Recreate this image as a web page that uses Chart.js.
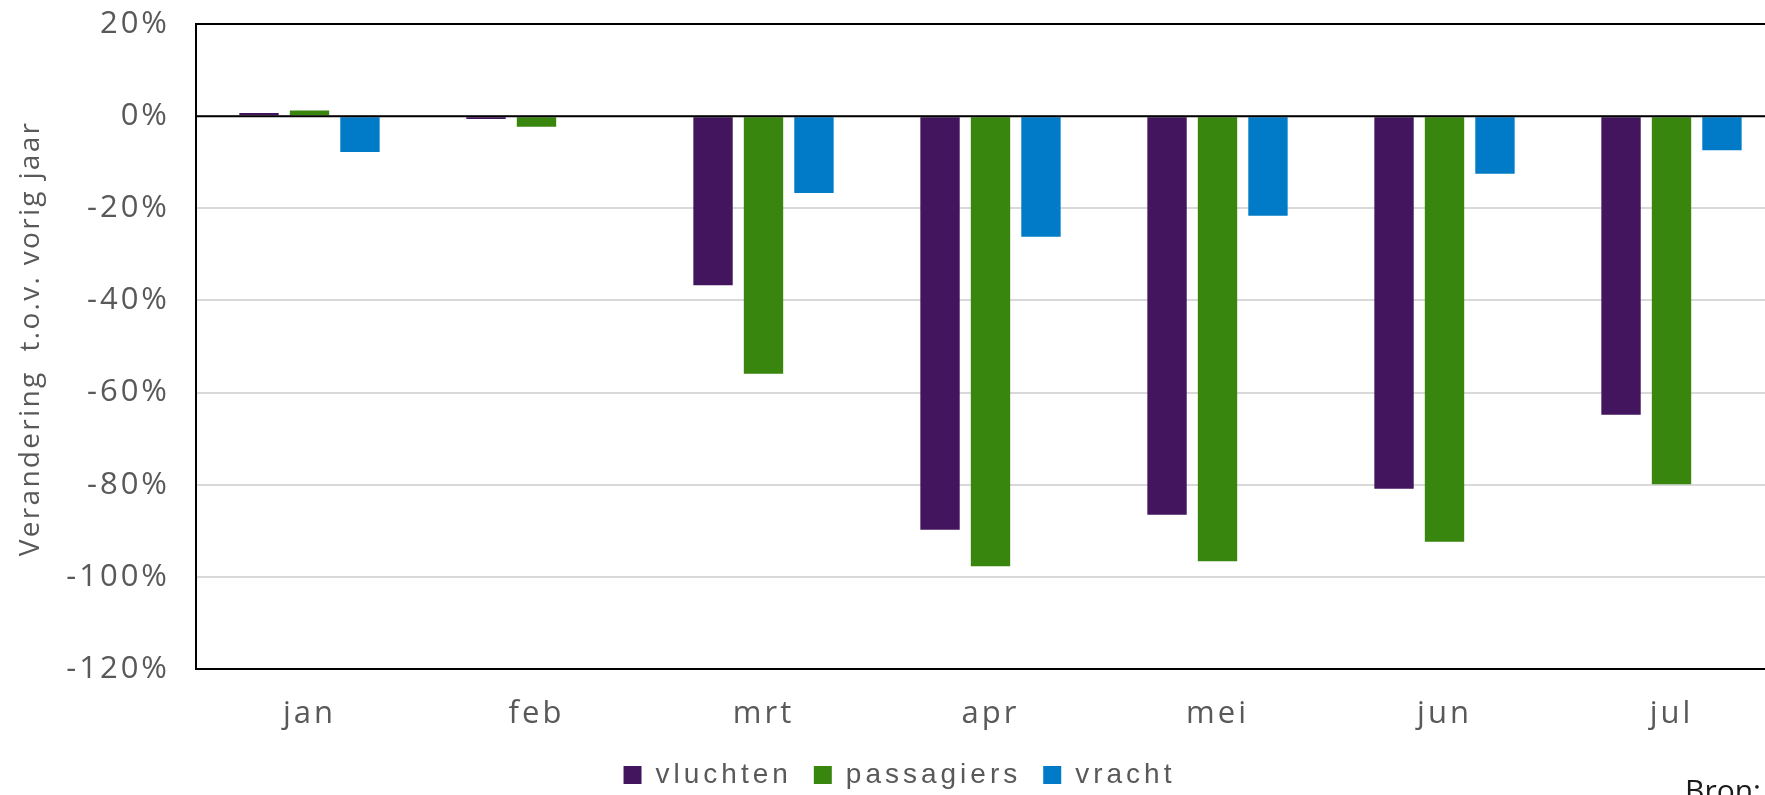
<!DOCTYPE html>
<html lang="nl">
<head>
<meta charset="utf-8">
<title>Verandering t.o.v. vorig jaar</title>
<script src="https://cdn.jsdelivr.net/npm/chart.js@4.4.1/dist/chart.umd.min.js"></script>
<style>
  html, body { margin: 0; padding: 0; background: #fff; overflow: hidden; }
  #grafiek { position: absolute; left: 0; top: 0; }
  #bron { position: absolute; left: 1685px; top: 775px; font: 30px 'Open Sans', sans-serif; line-height: 30px; color: #1a1a1a; white-space: nowrap; }
</style>
</head>
<body>
<canvas id="grafiek" width="1804" height="830"></canvas>
<div id="bron">Bron: CBS</div>
<script>
// maanden en procentuele verandering t.o.v. vorig jaar
const maanden = ['jan', 'feb', 'mrt', 'apr', 'mei', 'jun', 'jul'];
const vluchten = [0.7, -0.6, -36.7, -89.8, -86.5, -80.9, -64.8];
const passagiers = [1.2, -2.3, -55.9, -97.7, -96.6, -92.4, -79.9];
const vracht = [-7.8, 0.2, -16.7, -26.2, -21.6, -12.5, -7.4];

const kleuren = {
  vluchten: '#42155e',
  passagiers: '#38860e',
  vracht: '#017bc7',
};

const tekstGrijs = '#595959';

// tekst met extra letterafstand, zoals in het origineel
function metSpatie(obj, naam, px, ctx, dy) {
  if (obj[naam]._spatie) return;
  const orig = obj[naam].bind(obj);
  const nieuw = function () {
    const oud = ctx.letterSpacing;
    ctx.save();
    if (dy) ctx.translate(0, dy);
    ctx.letterSpacing = px;
    orig.apply(null, arguments);
    ctx.restore();
    ctx.letterSpacing = oud;
  };
  nieuw._spatie = true;
  obj[naam] = nieuw;
}

const spatiePlugin = {
  id: 'spatie',
  beforeLayout(chart) {
    chart.ctx.letterSpacing = '4px'; // legenda meet en tekent hiermee
  },
  beforeDraw(chart) {
    const ctx = chart.ctx;
    ctx.letterSpacing = '4px';
    metSpatie(chart.scales.x, 'drawLabels', '3px', ctx);
    metSpatie(chart.scales.y, 'drawLabels', '3px', ctx);
    metSpatie(chart.scales.y, 'drawTitle', '2.3px', ctx, -8);
  },
  afterDatasetsDraw(chart) {
    // nullijn over de staven heen
    const { ctx, chartArea } = chart;
    const y0 = chart.scales.y.getPixelForValue(0);
    ctx.save();
    ctx.strokeStyle = '#000';
    ctx.lineWidth = 2;
    ctx.beginPath();
    ctx.moveTo(chartArea.left, y0);
    ctx.lineTo(chartArea.right, y0);
    ctx.stroke();
    ctx.restore();
  },
};

new Chart(document.getElementById('grafiek'), {
  type: 'bar',
  data: {
    labels: maanden,
    datasets: [
      { label: 'vluchten', data: vluchten, backgroundColor: kleuren.vluchten },
      { label: 'passagiers', data: passagiers, backgroundColor: kleuren.passagiers },
      { label: 'vracht', data: vracht, backgroundColor: kleuren.vracht },
    ],
  },
  plugins: [spatiePlugin],
  options: {
    responsive: false,
    animation: false,
    categoryPercentage: 0.667,
    barPercentage: 0.78,
    layout: {
      padding: { top: 24, left: 14, right: 19, bottom: 31 },
    },
    plugins: {
      tooltip: { enabled: false },
      legend: {
        position: 'bottom',
        labels: {
          boxWidth: 18,
          boxHeight: 18,
          padding: 22,
          color: tekstGrijs,
          font: { family: "'Liberation Sans', Arial, sans-serif", size: 28 },
        },
      },
    },
    scales: {
      x: {
        grid: { display: false, drawTicks: false },
        border: { display: true, color: '#000', width: 2 },
        ticks: {
          padding: 27,
          color: tekstGrijs,
          font: { family: "'Open Sans', sans-serif", size: 31 },
        },
        afterFit(scale) {
          scale.height = 70;
          scale.paddingLeft = 0;
          scale.paddingRight = 0;
        },
      },
      y: {
        min: -120,
        max: 20,
        grid: {
          drawTicks: false,
          lineWidth: 2,
          color: (c) => (c.tick && (c.tick.value === 20 || c.tick.value === -120) ? '#000' : '#d9d9d9'),
        },
        border: { display: true, color: '#000', width: 2 },
        ticks: {
          stepSize: 20,
          padding: 26,
          color: tekstGrijs,
          font: { family: "'Open Sans', sans-serif", size: 31 },
          callback: (v) => v + '%',
        },
        title: {
          display: true,
          text: 'Verandering  t.o.v. vorig jaar',
          color: tekstGrijs,
          font: { family: "'Open Sans', sans-serif", size: 28 },
          padding: { top: 0, bottom: 0 },
        },
        afterFit(scale) {
          scale.width = 182;
          scale.paddingTop = 0;
          scale.paddingBottom = 0;
        },
      },
    },
  },
});
</script>
</body>
</html>
